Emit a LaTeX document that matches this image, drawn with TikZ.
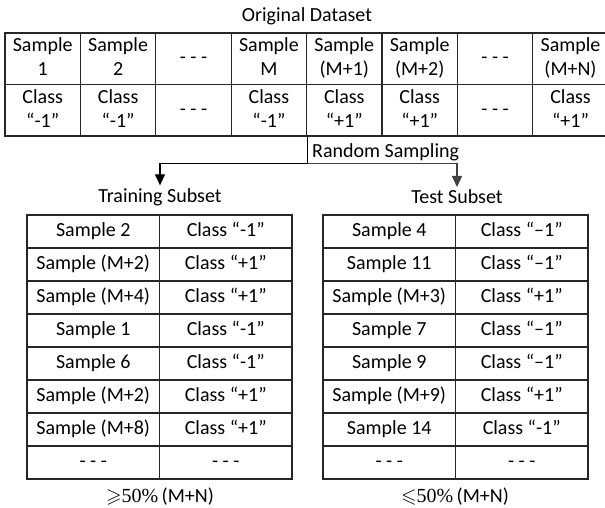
\documentclass[tikz,border=0pt]{standalone}
\usepackage{amssymb}
\usepackage{fontspec}
\setmainfont{Carlito}
\newfontfamily\serifnum{Liberation Serif}
\usetikzlibrary{arrows.meta}
\begin{document}
\begin{tikzpicture}[x=1pt,y=-1pt,
  every node/.style={font=\fontsize{20}{24}\selectfont},
  cell/.style={draw=black!85, line width=1.3pt, inner sep=0pt, align=center},
  topcell/.style={cell, minimum width=75.4pt, minimum height=51.5pt},
  subcell/.style={cell, minimum width=132.5pt, minimum height=33pt, text height=14pt, text depth=5pt},
  title/.style={inner sep=0pt, outer sep=3pt},
  conn/.style={line width=1.3pt},
  tip/.style={-{Triangle[length=11pt,width=10pt]}}
]
\useasboundingbox (0,0) rectangle (605,508);

\node (orig) at (307,16) {Original Dataset};

\foreach \p/\q [count=\i] in {Sample/1,Sample/2,- - -/,Sample/M,Sample/(M+1),Sample/(M+2),- - -/,Sample/(M+N)}
  \node[topcell] (s\i) at ({5+75.4*(\i-0.5)}, 58.75) {\strut\p\ifx\q\empty\else\\\strut\q\fi};
\foreach \p/\q [count=\i] in {Class/“-1”,Class/“-1”,- - -/,Class/“-1”,Class/“+1”,Class/“+1”,- - -/,Class/“+1”}
  \node[topcell] (c\i) at ({5+75.4*(\i-0.5)}, 110.25) {\strut\p\ifx\q\empty\else\\\strut\q\fi};

\node[anchor=west, inner sep=0pt] (rs) at (312,152) {Random Sampling};

\node[title] (trt) at (160,197) {Training Subset};
\node[title] (tst) at (457,197) {Test Subset};

\draw[conn] (c4.south east) -- ++(0,27) coordinate (split);
\draw[conn, tip, black] (split) -| (trt.north);
\draw[conn, tip, black!75] (split) -| (tst.north);

\foreach \a/\b [count=\i] in {Sample 2/Class “-1”, Sample (M+2)/Class “+1”, Sample (M+4)/Class “+1”, Sample 1/Class “-1”, Sample 6/Class “-1”, Sample (M+2)/Class “+1”, Sample (M+8)/Class “+1”, - - -/- - -}{
  \node[subcell] (tra\i) at (93.25, {198.5+33*\i}) {\a};
  \node[subcell] (trb\i) at (225.75, {198.5+33*\i}) {\b};
}
\foreach \a/\b [count=\i] in {Sample 4/Class “–1”, Sample 11/Class “–1”, Sample (M+3)/Class “+1”, Sample 7/Class “–1”, Sample 9/Class “–1”, Sample (M+9)/Class “+1”, Sample 14/Class “-1”, - - -/- - -}{
  \node[subcell] (tea\i) at (389.25, {198.5+33*\i}) {\a};
  \node[subcell] (teb\i) at (521.75, {198.5+33*\i}) {\b};
}

\node (trp) at (160,497) {$\geqslant${\serifnum 50\%}\,(M+N)};
\node (tep) at (455,497) {$\leqslant${\serifnum 50\%}\,(M+N)};
\end{tikzpicture}
\end{document}
